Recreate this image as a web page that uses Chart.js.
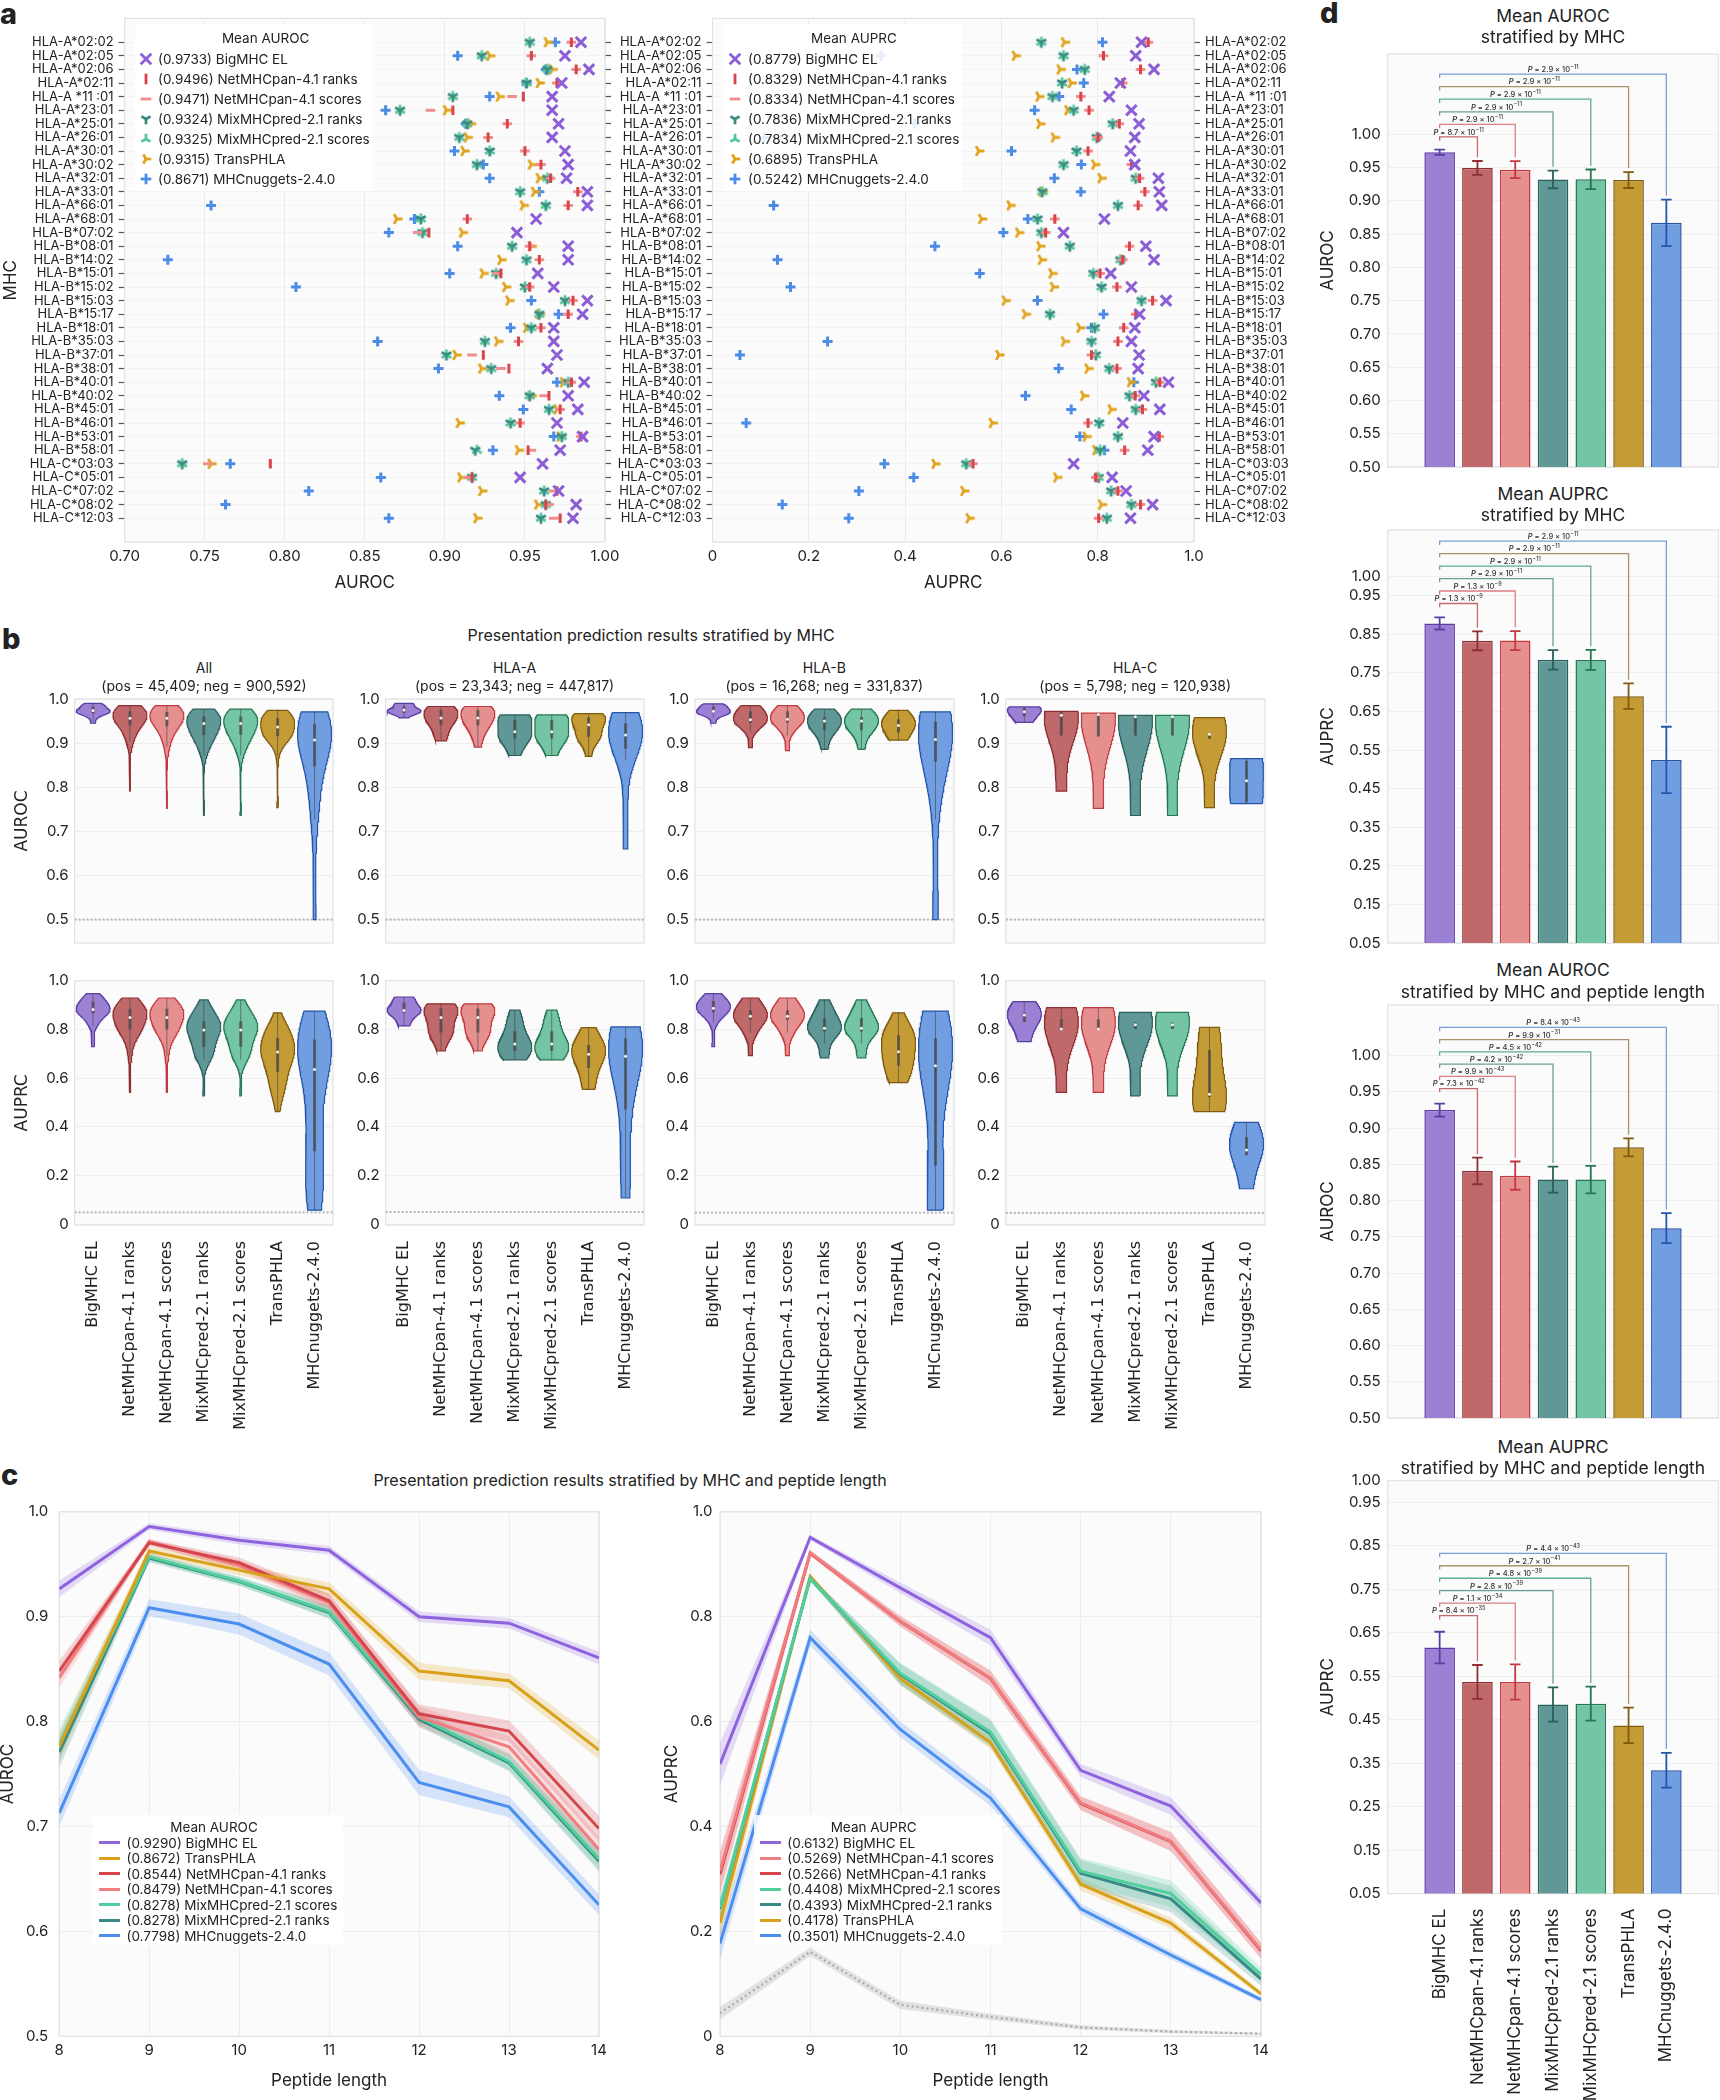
<!DOCTYPE html>
<html>
<head>
<meta charset="utf-8">
<title>Presentation prediction benchmark</title>
<script src="https://cdn.jsdelivr.net/npm/chart.js@4.4.1/dist/chart.umd.min.js"></script>
<style>
html,body{margin:0;padding:0;background:#fff;}
#root{position:relative;width:1720px;height:2100px;overflow:hidden;font-family:Inter,"Noto Sans",sans-serif;color:#222;}
#root canvas{position:absolute;}
.tx{position:absolute;white-space:nowrap;line-height:1.2;}
.bgbox{position:absolute;background:rgba(255,255,255,0.85);}
.mk{position:absolute;width:0;height:0;}
.ln{position:absolute;height:3px;width:21px;}
</style>
</head>
<body>
<div id="root"></div>
<script>
// ================= DATA =================
const MODELS = ['BigMHC EL','NetMHCpan-4.1 ranks','NetMHCpan-4.1 scores','MixMHCpred-2.1 ranks','MixMHCpred-2.1 scores','TransPHLA','MHCnuggets-2.4.0'];
const KEYS = ['big','netR','netS','mixR','mixS','trans','nug'];
const MHC = ['HLA-A*02:02','HLA-A*02:05','HLA-A*02:06','HLA-A*02:11','HLA-A *11 :01','HLA-A*23:01','HLA-A*25:01','HLA-A*26:01','HLA-A*30:01','HLA-A*30:02','HLA-A*32:01','HLA-A*33:01','HLA-A*66:01','HLA-A*68:01',
 'HLA-B*07:02','HLA-B*08:01','HLA-B*14:02','HLA-B*15:01','HLA-B*15:02','HLA-B*15:03','HLA-B*15:17','HLA-B*18:01','HLA-B*35:03','HLA-B*37:01','HLA-B*38:01','HLA-B*40:01','HLA-B*40:02','HLA-B*45:01','HLA-B*46:01','HLA-B*53:01','HLA-B*58:01',
 'HLA-C*03:03','HLA-C*05:01','HLA-C*07:02','HLA-C*08:02','HLA-C*12:03'];

// panel a: per-MHC AUROC
const aurocBig  = [0.985,0.975,0.990,0.973,0.967,0.967,0.971,0.967,0.975,0.977,0.976,0.989,0.989,0.957, 0.945,0.977,0.977,0.958,0.968,0.989,0.986,0.968,0.968,0.970,0.964,0.987,0.977,0.983,0.970,0.986,0.972, 0.961,0.947,0.971,0.982,0.980];
const aurocNetR = [0.979,0.954,0.982,0.970,0.949,0.905,0.939,0.927,0.950,0.960,0.966,0.983,0.977,0.914, 0.890,0.953,0.959,0.935,0.953,0.980,0.977,0.960,0.946,0.924,0.940,0.979,0.965,0.972,0.947,0.985,0.952, 0.791,0.917,0.970,0.963,0.972];
const aurocNetS = [0.979,0.954,0.982,0.970,0.942,0.891,0.939,0.927,0.950,0.960,0.966,0.983,0.977,0.914, 0.883,0.953,0.959,0.933,0.953,0.980,0.977,0.960,0.946,0.917,0.935,0.979,0.962,0.972,0.947,0.985,0.954, 0.752,0.915,0.968,0.965,0.968];
const aurocMixR = [0.953,0.923,0.964,0.951,0.905,0.872,0.914,0.909,0.928,0.920,0.964,0.947,0.963,0.885, 0.886,0.942,0.951,0.932,0.950,0.975,0.959,0.954,0.925,0.901,0.929,0.977,0.953,0.965,0.941,0.973,0.919, 0.736,0.917,0.962,0.963,0.960];
const aurocMixS = [0.953,0.923,0.964,0.951,0.905,0.872,0.914,0.909,0.928,0.920,0.964,0.947,0.963,0.885, 0.886,0.942,0.951,0.932,0.950,0.975,0.959,0.954,0.925,0.901,0.929,0.977,0.953,0.965,0.941,0.973,0.920, 0.736,0.917,0.962,0.963,0.960];
const aurocTrans= [0.964,0.928,0.967,0.959,0.934,0.901,0.916,0.914,0.912,0.954,0.959,0.956,0.949,0.870, 0.911,0.954,0.935,0.924,0.938,0.940,0.959,0.951,0.933,0.907,0.923,0.974,0.954,0.970,0.909,0.972,0.946, 0.754,0.910,0.923,0.958,0.920];
const aurocNug  = [0.969,0.908,0.963,0.951,0.928,0.863,0.913,0.660,0.906,0.924,0.928,0.959,0.754,0.881, 0.865,0.908,0.727,0.903,0.807,0.954,0.971,0.941,0.858,0.500,0.896,0.970,0.934,0.949,0.530,0.968,0.930, 0.766,0.860,0.815,0.763,0.865];
// panel a: per-MHC AUPRC
const auprcBig  = [0.891,0.879,0.917,0.847,0.824,0.870,0.886,0.877,0.868,0.877,0.926,0.928,0.933,0.814, 0.729,0.900,0.917,0.827,0.870,0.942,0.887,0.877,0.870,0.886,0.884,0.947,0.896,0.929,0.852,0.917,0.904, 0.750,0.830,0.859,0.914,0.868];
const auprcNetR = [0.905,0.812,0.889,0.852,0.765,0.782,0.845,0.801,0.780,0.870,0.887,0.898,0.884,0.711, 0.692,0.866,0.852,0.805,0.840,0.914,0.879,0.854,0.842,0.787,0.840,0.929,0.878,0.893,0.780,0.928,0.856, 0.541,0.796,0.842,0.889,0.802];
const auprcNetS = [0.905,0.812,0.889,0.852,0.765,0.782,0.845,0.801,0.780,0.870,0.887,0.898,0.884,0.711, 0.692,0.866,0.852,0.805,0.840,0.914,0.879,0.854,0.842,0.787,0.840,0.929,0.878,0.893,0.780,0.928,0.856, 0.541,0.796,0.842,0.889,0.802];
const auprcMixR = [0.683,0.729,0.773,0.726,0.706,0.750,0.831,0.798,0.756,0.729,0.879,0.685,0.842,0.675, 0.683,0.742,0.847,0.791,0.808,0.891,0.701,0.794,0.787,0.796,0.824,0.921,0.866,0.879,0.803,0.842,0.805, 0.527,0.802,0.828,0.870,0.819];
const auprcMixS = [0.683,0.729,0.773,0.726,0.706,0.750,0.831,0.798,0.756,0.729,0.879,0.685,0.842,0.675, 0.683,0.742,0.847,0.791,0.808,0.891,0.701,0.794,0.787,0.796,0.824,0.921,0.866,0.879,0.803,0.842,0.805, 0.527,0.802,0.828,0.870,0.819];
const auprcTrans= [0.731,0.629,0.722,0.745,0.678,0.738,0.680,0.710,0.553,0.794,0.807,0.685,0.618,0.559, 0.636,0.680,0.683,0.705,0.708,0.608,0.650,0.763,0.731,0.595,0.780,0.868,0.771,0.828,0.581,0.776,0.796, 0.462,0.715,0.522,0.808,0.533];
const auprcNug  = [0.810,0.350,0.757,0.771,0.720,0.669,0.420,0.107,0.621,0.766,0.710,0.765,0.127,0.655, 0.604,0.462,0.135,0.555,0.162,0.675,0.812,0.787,0.239,0.057,0.719,0.875,0.650,0.745,0.070,0.763,0.814, 0.357,0.418,0.304,0.145,0.283];

const legendAuroc = ['(0.9733) BigMHC EL','(0.9496) NetMHCpan-4.1 ranks','(0.9471) NetMHCpan-4.1 scores','(0.9324) MixMHCpred-2.1 ranks','(0.9325) MixMHCpred-2.1 scores','(0.9315) TransPHLA','(0.8671) MHCnuggets-2.4.0'];
const legendAuprc = ['(0.8779) BigMHC EL','(0.8329) NetMHCpan-4.1 ranks','(0.8334) NetMHCpan-4.1 scores','(0.7836) MixMHCpred-2.1 ranks','(0.7834) MixMHCpred-2.1 scores','(0.6895) TransPHLA','(0.5242) MHCnuggets-2.4.0'];
const aurocTicksA = [0.70,0.75,0.80,0.85,0.90,0.95,1.00];
const aurocTickLabelsA = ['0.70','0.75','0.80','0.85','0.90','0.95','1.00'];
const auprcTicksA = [0,0.2,0.4,0.6,0.8,1.0];
const auprcTickLabelsA = ['0','0.2','0.4','0.6','0.8','1.0'];

// panel b
const groups = ['All','HLA-A','HLA-B','HLA-C'];
const posCounts = [45409,23343,16268,5798];
const negCounts = [900592,447817,331837,120938];
const rocTicksB = [0.5,0.6,0.7,0.8,0.9,1.0];
const rocTickLabelsB = ['0.5','0.6','0.7','0.8','0.9','1.0'];
const prcTicksB = [0,0.2,0.4,0.6,0.8,1.0];
const prcTickLabelsB = ['0','0.2','0.4','0.6','0.8','1.0'];

// panel c
const peptideLengths = [8,9,10,11,12,13,14];
const lenTickLabels = ['8','9','10','11','12','13','14'];
const lenRocBig   = [0.9265,0.9860,0.9728,0.9634,0.9000,0.8938,0.8607];
const lenRocTrans = [0.7759,0.9626,0.9444,0.9265,0.8482,0.8389,0.7728];
const lenRocNetR  = [0.8480,0.9704,0.9514,0.9152,0.8074,0.7910,0.6980];
const lenRocNetS  = [0.8420,0.9716,0.9490,0.9132,0.8043,0.7760,0.6780];
const lenRocMixS  = [0.7780,0.9570,0.9340,0.9050,0.8040,0.7620,0.6690];
const lenRocMixR  = [0.7710,0.9560,0.9335,0.9040,0.8023,0.7607,0.6670];
const lenRocNug   = [0.7128,0.9086,0.8930,0.8549,0.7420,0.7187,0.6253];
const lenRocBigErr   = [0.008,0.003,0.004,0.004,0.005,0.005,0.006];
const lenRocTransErr = [0.013,0.004,0.005,0.006,0.008,0.007,0.009];
const lenRocNetRErr  = [0.010,0.003,0.005,0.007,0.009,0.010,0.012];
const lenRocNetSErr  = [0.010,0.003,0.005,0.008,0.010,0.010,0.012];
const lenRocMixSErr  = [0.015,0.004,0.004,0.006,0.007,0.008,0.010];
const lenRocMixRErr  = [0.015,0.004,0.004,0.006,0.007,0.008,0.010];
const lenRocNugErr   = [0.013,0.008,0.010,0.011,0.012,0.010,0.010];
const lenPrcBig   = [0.519,0.951,0.855,0.760,0.507,0.439,0.254];
const lenPrcNetS  = [0.315,0.922,0.792,0.683,0.445,0.372,0.165];
const lenPrcNetR  = [0.309,0.921,0.791,0.682,0.444,0.371,0.163];
const lenPrcMixS  = [0.245,0.873,0.692,0.580,0.315,0.272,0.118];
const lenPrcMixR  = [0.243,0.873,0.690,0.577,0.311,0.262,0.109];
const lenPrcTrans = [0.216,0.877,0.682,0.560,0.290,0.216,0.081];
const lenPrcNug   = [0.177,0.760,0.585,0.454,0.243,0.155,0.070];
const lenPrcBaseline = [0.044,0.161,0.060,0.037,0.017,0.009,0.005];
const lenPrcBigErr   = [0.040,0.005,0.010,0.015,0.012,0.017,0.012];
const lenPrcNetSErr  = [0.040,0.005,0.010,0.015,0.013,0.018,0.015];
const lenPrcNetRErr  = [0.040,0.005,0.010,0.015,0.013,0.018,0.015];
const lenPrcMixSErr  = [0.020,0.005,0.020,0.025,0.025,0.025,0.012];
const lenPrcMixRErr  = [0.020,0.005,0.020,0.025,0.025,0.025,0.012];
const lenPrcTransErr = [0.030,0.005,0.012,0.012,0.012,0.010,0.005];
const lenPrcNugErr   = [0.030,0.015,0.015,0.015,0.010,0.008,0.005];
const lenPrcBaselineErr = [0.012,0.008,0.008,0.006,0.004,0.003,0.002];
const lenLegendRoc = ['(0.9290) BigMHC EL','(0.8672) TransPHLA','(0.8544) NetMHCpan-4.1 ranks','(0.8479) NetMHCpan-4.1 scores','(0.8278) MixMHCpred-2.1 scores','(0.8278) MixMHCpred-2.1 ranks','(0.7798) MHCnuggets-2.4.0'];
const lenLegendPrc = ['(0.6132) BigMHC EL','(0.5269) NetMHCpan-4.1 scores','(0.5266) NetMHCpan-4.1 ranks','(0.4408) MixMHCpred-2.1 scores','(0.4393) MixMHCpred-2.1 ranks','(0.4178) TransPHLA','(0.3501) MHCnuggets-2.4.0'];
const rocTicksC = [0.5,0.6,0.7,0.8,0.9,1.0];
const rocTickLabelsC = ['0.5','0.6','0.7','0.8','0.9','1.0'];
const prcTicksC = [0,0.2,0.4,0.6,0.8,1.0];
const prcTickLabelsC = ['0','0.2','0.4','0.6','0.8','1.0'];

// panel d
const dRocMhc    = [0.9733,0.9496,0.9471,0.9324,0.9325,0.9315,0.8671];
const dRocMhcErr = [0.004,0.0105,0.0128,0.0133,0.0148,0.012,0.035];
const dRocMhcP   = [['8.7','−11'],['2.9','−11'],['2.9','−11'],['2.9','−11'],['2.9','−11'],['2.9','−11']];
const dPrcMhc    = [0.8779,0.8329,0.8334,0.7836,0.7834,0.6895,0.5242];
const dPrcMhcErr = [0.0157,0.0244,0.0248,0.0253,0.026,0.033,0.086];
const dPrcMhcP   = [['1.3','−9'],['1.3','−9'],['2.9','−11'],['2.9','−11'],['2.9','−11'],['2.9','−11']];
const dRocLen    = [0.925,0.841,0.8345,0.829,0.829,0.8736,0.762];
const dRocLenErr = [0.009,0.0184,0.0195,0.018,0.0189,0.0124,0.0207];
const dRocLenP   = [['7.3','−42'],['9.9','−43'],['4.2','−42'],['4.5','−42'],['9.9','−31'],['8.4','−43']];
const dPrcLen    = [0.616,0.537,0.537,0.485,0.487,0.437,0.334];
const dPrcLenErr = [0.0365,0.039,0.0405,0.0395,0.039,0.041,0.04];
const dPrcLenP   = [['8.4','−35'],['1.1','−34'],['2.8','−39'],['4.8','−39'],['2.7','−41'],['4.4','−43']];
const dTicksRoc = [0.50,0.55,0.60,0.65,0.70,0.75,0.80,0.85,0.90,0.95,1.00];
const dTickLabelsRoc = ['0.50','0.55','0.60','0.65','0.70','0.75','0.80','0.85','0.90','0.95','1.00'];
const dTicksPrc = [0.05,0.15,0.25,0.35,0.45,0.55,0.65,0.75,0.85,0.95,1.00];
const dTickLabelsPrc = ['0.05','0.15','0.25','0.35','0.45','0.55','0.65','0.75','0.85','0.95','1.00'];

// ================= STYLE =================
const SC = {big:'#8b5ed6', netR:'#d9434b', netS:'#f28b8b', mixR:'#3a8c83', mixS:'#58c89b', trans:'#e1a31c', nug:'#4c8ce6'};
const FILL = {big:'#9b80d3', netR:'#c0696a', netS:'#e68f8f', mixR:'#5f9896', mixS:'#74c5a6', trans:'#c49b35', nug:'#719de1'};
const EDGE = {big:'#5a3ea6', netR:'#8e2e33', netS:'#c23a40', mixR:'#2a5f5b', mixS:'#24774f', trans:'#7e5b0e', nug:'#2455a8'};
const LINE = {big:'#8f63e0', netR:'#d4464c', netS:'#f07d7f', mixR:'#388a84', mixS:'#4ecf9b', trans:'#d9a11a', nug:'#4b8ef0'};
const BRK  = {netR:'#c46a6b', netS:'#dc7f80', mixR:'#6e9d99', mixS:'#5fae8c', trans:'#a8936a', nug:'#7a9ed8'};
const MARK = {big:'x', netR:'v', netS:'h', mixR:'tridown', mixS:'triup', trans:'triright', nug:'plus'};

const AUROC = {big:aurocBig, netR:aurocNetR, netS:aurocNetS, mixR:aurocMixR, mixS:aurocMixS, trans:aurocTrans, nug:aurocNug};
const AUPRC = {big:auprcBig, netR:auprcNetR, netS:auprcNetS, mixR:auprcMixR, mixS:auprcMixS, trans:auprcTrans, nug:auprcNug};

Chart.defaults.font.family = 'Inter, "Noto Sans", sans-serif';
Chart.defaults.color = '#222';
Chart.defaults.animation = false;
Chart.defaults.responsive = false;
Chart.defaults.maintainAspectRatio = false;
Chart.defaults.devicePixelRatio = 1;
Chart.defaults.events = [];
Chart.defaults.plugins.legend.display = false;
Chart.defaults.plugins.tooltip.enabled = false;

const root = document.getElementById('root');

Chart.register({
  id: 'plotFrame',
  beforeDraw(chart) {
    const {ctx, chartArea: a} = chart;
    ctx.save(); ctx.fillStyle = '#fbfbfb'; ctx.fillRect(a.left, a.top, a.right - a.left, a.bottom - a.top); ctx.restore();
  },
  beforeDatasetsDraw(chart) {
    const {ctx, chartArea: a} = chart;
    ctx.save(); ctx.strokeStyle = '#e2e2e2'; ctx.lineWidth = 1.2;
    ctx.strokeRect(a.left, a.top, a.right - a.left, a.bottom - a.top); ctx.restore();
  }
});
Chart.register({
  id: 'pvals',
  afterDatasetsDraw(chart) {
    const items = chart.canvas.pvItems; if (!items) return;
    const ctx = chart.ctx, xs = chart.scales.x, ys = chart.scales.y;
    ctx.save(); ctx.fillStyle = '#333'; ctx.textBaseline = 'alphabetic'; ctx.textAlign = 'left';
    const f1 = 'italic 600 7.5px Inter', f2 = '500 7.5px Inter', f3 = '500 5.5px Inter';
    for (const it of items) {
      const px = xs.getPixelForValue(it.x), py = ys.getPixelForValue(it.y) - 2.2;
      const a = 'P', b = ' = ' + it.m + ' × 10', c = it.e;
      ctx.font = f1; const wa = ctx.measureText(a).width;
      ctx.font = f2; const wb = ctx.measureText(b).width;
      ctx.font = f3; const wc = ctx.measureText(c).width;
      let x0 = px - (wa + wb + wc) / 2;
      ctx.font = f1; ctx.fillText(a, x0, py); x0 += wa;
      ctx.font = f2; ctx.fillText(b, x0, py); x0 += wb;
      ctx.font = f3; ctx.fillText(c, x0 + 0.3, py - 3.2);
    }
    ctx.restore();
  }
});

const fix = s => ax => {
  if (ax.isHorizontal()) ax.height = s; else ax.width = s;
  ax.paddingLeft = 0; ax.paddingRight = 0; ax.paddingTop = 0; ax.paddingBottom = 0;
};
const setTicks = vals => ax => { ax.ticks = vals.map(v => ({value: v})); };
const hexA = (h, a) => { const n = parseInt(h.slice(1), 16); return `rgba(${(n >> 16) & 255},${(n >> 8) & 255},${n & 255},${a})`; };

function makeChart(area, sz, config) {
  const padL = sz.padL || 0, padR = sz.padR || 0, padT = sz.padT || 0, padB = sz.padB || 0;
  const mL = (sz.left || 0) + padL, mR = (sz.right || 0) + padR, mB = (sz.bottom || 0) + padB;
  const x = Math.round(area.L - mL), y = Math.round(area.T - padT);
  const w = Math.round(area.R + mR) - x, h = Math.round(area.B + mB) - y;
  const cv = document.createElement('canvas');
  cv.width = w; cv.height = h;
  cv.style.left = x + 'px'; cv.style.top = y + 'px'; cv.style.width = w + 'px'; cv.style.height = h + 'px';
  if (sz.pv) cv.pvItems = sz.pv;
  root.appendChild(cv);
  config.options = config.options || {};
  config.options.layout = {padding: {left: padL + (area.L - mL - x), right: padR, top: padT + (area.T - padT - y), bottom: padB}};
  return new Chart(cv, config);
}

function addText(s, x, y, o = {}) {
  const d = document.createElement('div');
  d.className = 'tx'; d.textContent = s;
  d.style.fontSize = (o.size || 14) + 'px';
  if (o.weight) d.style.fontWeight = o.weight;
  if (o.family) d.style.fontFamily = o.family;
  if (o.lh) d.style.lineHeight = o.lh;
  d.style.left = x + 'px'; d.style.top = y + 'px';
  const ax = o.align === 'left' ? '0' : (o.align === 'right' ? '-100%' : '-50%');
  d.style.transform = `translate(${ax},-50%)`;
  root.appendChild(d); return d;
}
function addBox(l, t, w, h) {
  const d = document.createElement('div'); d.className = 'bgbox';
  d.style.left = l + 'px'; d.style.top = t + 'px'; d.style.width = w + 'px'; d.style.height = h + 'px';
  root.appendChild(d);
}
function markerSVG(kind, color) {
  const c = 7, r = 5.3;
  const L = (x1, y1, x2, y2) => `<line x1="${x1}" y1="${y1}" x2="${x2}" y2="${y2}"/>`;
  let p = '';
  if (kind === 'x') p = L(c-r,c-r,c+r,c+r) + L(c-r,c+r,c+r,c-r);
  else if (kind === 'v') p = L(c,c-r,c,c+r);
  else if (kind === 'h') p = L(c-r,c,c+r,c);
  else if (kind === 'plus') p = L(c-r,c,c+r,c) + L(c,c-r,c,c+r);
  else if (kind === 'tridown') p = L(c,c,c,c+r) + L(c,c,c-0.866*r,c-0.5*r) + L(c,c,c+0.866*r,c-0.5*r);
  else if (kind === 'triup') p = L(c,c,c,c-r) + L(c,c,c-0.866*r,c+0.5*r) + L(c,c,c+0.866*r,c+0.5*r);
  else p = L(c,c,c+r,c) + L(c,c,c-0.5*r,c-0.866*r) + L(c,c,c-0.5*r,c+0.866*r);
  return `<svg width="14" height="14" style="position:absolute;left:-7px;top:-7px;overflow:visible" stroke="${color}" stroke-width="2.8">${p}</svg>`;
}
function triCanvas(kind, color) {
  const cv = document.createElement('canvas'); cv.width = 14; cv.height = 14;
  const g = cv.getContext('2d'); g.strokeStyle = color; g.lineWidth = 2.8; const c = 7, r = 5.6;
  const arms = kind === 'tridown' ? [[0,1],[-0.866,-0.5],[0.866,-0.5]] : kind === 'triup' ? [[0,-1],[-0.866,0.5],[0.866,0.5]] : [[1,0],[-0.5,-0.866],[-0.5,0.866]];
  g.beginPath(); for (const [dx, dy] of arms) { g.moveTo(c, c); g.lineTo(c + dx * r, c + dy * r); } g.stroke();
  return cv;
}

// ================= PANEL A =================
function mhcDatasets(metric) {
  const pts = k => metric[k].map((v, i) => ({x: v, y: i}));
  const base = {showLine: false, pointBackgroundColor: 'rgba(0,0,0,0)'};
  return [
    Object.assign({data: pts('big'), pointStyle: 'crossRot', pointRadius: 7.4, pointBorderWidth: 3, pointBorderColor: SC.big}, base),
    Object.assign({data: pts('netR'), pointStyle: 'line', pointRotation: 90, pointRadius: 4.8, pointBorderWidth: 3, pointBorderColor: SC.netR}, base),
    Object.assign({data: pts('netS'), pointStyle: 'line', pointRadius: 4.8, pointBorderWidth: 3, pointBorderColor: SC.netS}, base),
    Object.assign({data: pts('mixR'), pointStyle: triCanvas('tridown', SC.mixR), pointRadius: 6}, base),
    Object.assign({data: pts('mixS'), pointStyle: triCanvas('triup', SC.mixS), pointRadius: 6}, base),
    Object.assign({data: pts('trans'), pointStyle: triCanvas('triright', SC.trans), pointRadius: 6}, base),
    Object.assign({data: pts('nug'), pointStyle: 'cross', pointRadius: 5, pointBorderWidth: 3, pointBorderColor: SC.nug}, base)
  ];
}
const rowTicks = setTicks(MHC.map((_, i) => i));
function rowAxis(position, labels, width) {
  return {type: 'linear', position, reverse: true, min: -1.75, max: 36.75, afterBuildTicks: rowTicks,
    ticks: {display: labels, autoSkip: false, callback: v => MHC[v], font: {size: 13}, padding: 5},
    grid: {color: '#f3f3f3', drawOnChartArea: position === 'left', tickColor: '#555', tickLength: 6, tickWidth: 1.2},
    border: {display: false}, afterFit: fix(width)};
}
// left (AUROC)
makeChart({L: 124.6, T: 16.7, R: 605, B: 542.3}, {left: 124.6, right: 8, padR: 14, bottom: 55, padT: 9}, {
  type: 'scatter', data: {datasets: mhcDatasets(AUROC)},
  options: {scales: {
    x: {type: 'linear', min: 0.70, max: 1.00, afterBuildTicks: setTicks(aurocTicksA),
        ticks: {callback: (v, i) => aurocTickLabelsA[i], font: {size: 15}, padding: 5.5},
        grid: {color: '#ebebeb', drawTicks: false}, border: {display: false},
        title: {display: true, text: 'AUROC', font: {size: 17}, padding: {top: 0, bottom: 4}}, afterFit: fix(55)},
    y: Object.assign(rowAxis('left', true, 124.6), {title: {display: true, text: 'MHC', font: {size: 17}, padding: {top: 0.5, bottom: 0}}}),
    y2: rowAxis('right', false, 8)
  }}
});
// right (AUPRC)
makeChart({L: 712.5, T: 16.7, R: 1193.8, B: 542.3}, {left: 99, right: 100, bottom: 55, padT: 9}, {
  type: 'scatter', data: {datasets: mhcDatasets(AUPRC)},
  options: {scales: {
    x: {type: 'linear', min: 0, max: 1, afterBuildTicks: setTicks(auprcTicksA),
        ticks: {callback: (v, i) => auprcTickLabelsA[i], font: {size: 15}, padding: 5.5},
        grid: {color: '#ebebeb', drawTicks: false}, border: {display: false},
        title: {display: true, text: 'AUPRC', font: {size: 17}, padding: {top: 0, bottom: 4}}, afterFit: fix(55)},
    y: rowAxis('left', true, 99),
    y2: rowAxis('right', true, 100)
  }}
});
function mhcLegend(title, titleX, mx, tx, texts, bgL, bgW) {
  addBox(bgL, 24, bgW, 167);
  addText(title, titleX, 37.7, {size: 13.5});
  texts.forEach((t, k) => {
    const y = 59.3 + 20 * k;
    const m = document.createElement('div'); m.className = 'mk'; m.style.left = mx + 'px'; m.style.top = y + 'px';
    m.innerHTML = markerSVG(MARK[KEYS[k]], SC[KEYS[k]]); root.appendChild(m);
    addText(t, tx, y, {size: 13.5, align: 'left'});
  });
}

// ================= PANEL B =================
const HALF = 0.46;
function violinDatasets(vals) {
  const bodies = [], whisk = [], box = [], med = [];
  vals.forEach((arr, i) => {
    const s = arr.slice().sort((a, b) => a - b), n = s.length;
    const mean = s.reduce((a, b) => a + b, 0) / n;
    const sd = Math.sqrt(s.reduce((a, b) => a + (b - mean) ** 2, 0) / (n - 1));
    const bw = sd * Math.pow(n, -0.2);
    const lo = s[0], hi = s[n - 1], G = 120;
    const ys = [], dens = [];
    for (let g = 0; g < G; g++) {
      const y = lo + (hi - lo) * g / (G - 1); let d = 0;
      for (const v of s) d += Math.exp(-0.5 * ((y - v) / bw) ** 2);
      ys.push(y); dens.push(d);
    }
    const dmax = Math.max(...dens);
    const pts = [];
    for (let g = 0; g < G; g++) pts.push({x: i + HALF * dens[g] / dmax, y: ys[g]});
    for (let g = G - 1; g >= 0; g--) pts.push({x: i - HALF * dens[g] / dmax, y: ys[g]});
    pts.push({x: pts[0].x, y: pts[0].y});
    const k = KEYS[i];
    bodies.push({data: pts, showLine: true, fill: 'shape', backgroundColor: FILL[k], borderColor: EDGE[k], borderWidth: 1.2, pointRadius: 0});
    const q = p => { const pos = (n - 1) * p, f = Math.floor(pos), c = Math.min(f + 1, n - 1); return s[f] + (s[c] - s[f]) * (pos - f); };
    const q1 = q(0.25), q2 = q(0.5), q3 = q(0.75), iqr = q3 - q1;
    const wl = s.find(v => v >= q1 - 1.5 * iqr), wh = s.slice().reverse().find(v => v <= q3 + 1.5 * iqr);
    whisk.push({x: i, y: wl}, {x: i, y: wh}, {x: i, y: null});
    box.push({x: i, y: q1}, {x: i, y: q3}, {x: i, y: null});
    med.push({x: i, y: q2});
  });
  return [
    {data: med, showLine: false, pointRadius: 1.5, pointBackgroundColor: '#f4f4f4', pointBorderWidth: 0},
    {data: box, showLine: true, borderColor: 'rgba(70,70,70,0.7)', borderWidth: 3, pointRadius: 0},
    {data: whisk, showLine: true, borderColor: 'rgba(70,70,70,0.6)', borderWidth: 1, pointRadius: 0},
    ...bodies
  ];
}
const colsL = [74.6, 385.6, 694.9, 1005.8];
for (let row = 0; row < 2; row++) {
  for (let col = 0; col < 4; col++) {
    const metric = row === 0 ? AUROC : AUPRC;
    const idx = MHC.map((m, i) => i).filter(i => groups[col] === 'All' || MHC[i].startsWith(groups[col]));
    const vals = KEYS.map(k => idx.map(i => metric[k][i]));
    const ds = violinDatasets(vals);
    const base = row === 0 ? 0.5 : posCounts[col] / (posCounts[col] + negCounts[col]);
    ds.push({data: [{x: -0.5, y: base}, {x: 6.5, y: base}], showLine: true, borderColor: '#b5b5b5', borderDash: [2, 2], borderWidth: 2, pointRadius: 0});
    const area = {L: colsL[col], R: colsL[col] + 258.7, T: row ? 980.7 : 699, B: row ? 1225 : 943.4};
    const left = col === 0 ? 66.6 : 40;
    const xAxis = {type: 'linear', min: -0.5, max: 6.5, display: row === 1, afterBuildTicks: setTicks([0,1,2,3,4,5,6]),
      ticks: {autoSkip: false, callback: (v, i) => MODELS[i], maxRotation: 90, minRotation: 90, font: {family: '"DejaVu Sans", sans-serif', size: 16}, padding: 8},
      grid: {display: false}, border: {display: false}};
    if (row === 1) xAxis.afterFit = fix(215);
    const ticksV = row ? prcTicksB : rocTicksB, labelsV = row ? prcTickLabelsB : rocTickLabelsB;
    makeChart(area, {left, padT: 12, bottom: row ? 215 : 0, padB: row ? 0 : 6, padR: 4}, {
      type: 'scatter', data: {datasets: ds},
      options: {scales: {
        x: xAxis,
        y: {type: 'linear', min: row ? -0.004 : 0.447, max: 1.0, afterBuildTicks: setTicks(ticksV),
            ticks: {callback: (v, i) => labelsV[i], font: {size: 15}, padding: 6},
            grid: {color: '#eeeeee', drawTicks: false}, border: {display: false},
            title: {display: col === 0, text: row ? 'AUPRC' : 'AUROC', font: {family: '"DejaVu Sans", sans-serif', size: 17}, padding: {top: 4.8, bottom: 0}},
            afterFit: fix(left)}
      }}
    });
  }
}

// ================= PANEL C =================
function lenChart(area, sz, series, yTicks, yLabels, yMin, yMax, yTitle, yPad, tPad) {
  const ds = [];
  series.forEach(s => ds.push({data: peptideLengths.map((x, i) => ({x, y: s.v[i]})), borderColor: s.c, borderWidth: s.lw || 3, borderDash: s.dash || [], pointRadius: 0, fill: false}));
  series.forEach(s => {
    ds.push({data: peptideLengths.map((x, i) => ({x, y: s.v[i] - s.e[i]})), borderWidth: 0, borderColor: 'rgba(0,0,0,0)', pointRadius: 0, fill: false});
    ds.push({data: peptideLengths.map((x, i) => ({x, y: s.v[i] + s.e[i]})), borderWidth: 0, borderColor: 'rgba(0,0,0,0)', pointRadius: 0, fill: '-1', backgroundColor: hexA(s.c, s.a || 0.22)});
  });
  makeChart(area, sz, {
    type: 'line', data: {datasets: ds},
    options: {scales: {
      x: {type: 'linear', min: 8, max: 14, afterBuildTicks: setTicks(peptideLengths),
          ticks: {callback: (v, i) => lenTickLabels[i], font: {size: 15}, padding: 5.5},
          grid: {color: '#eeeeee', drawTicks: false}, border: {display: false},
          title: {display: true, text: 'Peptide length', font: {size: 17}, padding: {top: 0, bottom: 8.8}}, afterFit: fix(sz.bottom)},
      y: {type: 'linear', min: yMin, max: yMax, afterBuildTicks: setTicks(yTicks),
          ticks: {callback: (v, i) => yLabels[i], font: {size: 15}, padding: yPad},
          grid: {color: '#eeeeee', drawTicks: false}, border: {display: false},
          title: {display: true, text: yTitle, font: {size: 17}, padding: {top: tPad, bottom: 0}}, afterFit: fix(sz.left)}
    }}
  });
}
lenChart({L: 59.2, T: 1511.8, R: 599.2, B: 2036.3}, {left: 61.2, bottom: 63.7, padT: 10, padR: 16}, [
  {v: lenRocBig, e: lenRocBigErr, c: LINE.big},
  {v: lenRocTrans, e: lenRocTransErr, c: LINE.trans},
  {v: lenRocNetR, e: lenRocNetRErr, c: LINE.netR},
  {v: lenRocNetS, e: lenRocNetSErr, c: LINE.netS},
  {v: lenRocMixS, e: lenRocMixSErr, c: LINE.mixS},
  {v: lenRocMixR, e: lenRocMixRErr, c: LINE.mixR},
  {v: lenRocNug, e: lenRocNugErr, c: LINE.nug}
], rocTicksC, rocTickLabelsC, 0.5, 1.0, 'AUROC', 11, 0);
lenChart({L: 720, T: 1511.8, R: 1260.8, B: 2036.3}, {left: 60, bottom: 63.7, padT: 10, padR: 14}, [
  {v: lenPrcBig, e: lenPrcBigErr, c: LINE.big},
  {v: lenPrcNetS, e: lenPrcNetSErr, c: LINE.netS},
  {v: lenPrcNetR, e: lenPrcNetRErr, c: LINE.netR},
  {v: lenPrcMixS, e: lenPrcMixSErr, c: LINE.mixS},
  {v: lenPrcMixR, e: lenPrcMixRErr, c: LINE.mixR},
  {v: lenPrcTrans, e: lenPrcTransErr, c: LINE.trans},
  {v: lenPrcNug, e: lenPrcNugErr, c: LINE.nug},
  {v: lenPrcBaseline, e: lenPrcBaselineErr, c: '#a9a9a9', dash: [2, 3], lw: 2.2, a: 0.3}
], prcTicksC, prcTickLabelsC, 0, 1.0, 'AUPRC', 7.5, 1.4);
function lenLegend(title, titleX, lx, tx, texts, colors, bgL, bgW) {
  addBox(bgL, 1815, bgW, 130);
  addText(title, titleX, 1826.5, {size: 13.5});
  texts.forEach((t, k) => {
    const y = 1842.9 + 15.5 * k;
    const d = document.createElement('div'); d.className = 'ln';
    d.style.left = lx + 'px'; d.style.top = (y - 1.5) + 'px'; d.style.background = colors[k]; root.appendChild(d);
    addText(t, tx, y, {size: 13.5, align: 'left'});
  });
}

// ================= PANEL D =================
const dCharts = [
  {means: dRocMhc, errs: dRocMhcErr, p: dRocMhcP, ticks: dTicksRoc, labels: dTickLabelsRoc, min: 0.5, max: 1.121, T: 54, B: 466.7, title: 'AUROC', off: 0.019, step: 0.0189},
  {means: dPrcMhc, errs: dPrcMhcErr, p: dPrcMhcP, ticks: dTicksPrc, labels: dTickLabelsPrc, min: 0.05, max: 1.12, T: 530, B: 942.7, title: 'AUPRC', off: 0.036, step: 0.0323},
  {means: dRocLen, errs: dRocLenErr, p: dRocLenP, ticks: dTicksRoc, labels: dTickLabelsRoc, min: 0.5, max: 1.07, T: 1005, B: 1418.3, title: 'AUROC', off: 0.0205, step: 0.0169},
  {means: dPrcLen, errs: dPrcLenErr, p: dPrcLenP, ticks: dTicksPrc, labels: dTickLabelsPrc, min: 0.05, max: 1.0, T: 1480.7, B: 1893.6, title: 'AUPRC', off: 0.037, step: 0.0287, xLabels: true}
];
dCharts.forEach(dc => {
  const ds = [];
  const items = [];
  const bigHi = dc.means[0] + dc.errs[0];
  for (let k = 0; k < 6; k++) {
    const j = k + 1, lvl = bigHi + dc.off + k * dc.step, tick = 0.3 * dc.step;
    const drop = dc.means[j] + dc.errs[j] + 0.3 * dc.step;
    ds.push({type: 'line', data: [{x: 0, y: lvl - tick}, {x: 0, y: lvl}, {x: j, y: lvl}, {x: j, y: drop}], borderColor: BRK[KEYS[j]], borderWidth: 1.3, pointRadius: 0, fill: false});
    items.push({x: j / 2, y: lvl, m: dc.p[k][0], e: dc.p[k][1]});
  }
  dc.means.forEach((m, i) => {
    const lo = m - dc.errs[i], hi = m + dc.errs[i], c = 0.14;
    ds.push({type: 'line', data: [{x: i, y: lo}, {x: i, y: hi}, {x: i, y: null}, {x: i - c, y: lo}, {x: i + c, y: lo}, {x: i, y: null}, {x: i - c, y: hi}, {x: i + c, y: hi}],
      borderColor: EDGE[KEYS[i]], borderWidth: 1.8, pointRadius: 0, fill: false});
  });
  ds.push({type: 'bar', data: dc.means.map((v, i) => ({x: i, y: v})), backgroundColor: KEYS.map(k => FILL[k]), borderColor: KEYS.map(k => EDGE[k]), borderWidth: 1.5, barPercentage: 0.9, categoryPercentage: 0.9});
  const xAxis = {type: 'linear', min: -0.75, max: 6.75, display: !!dc.xLabels, afterBuildTicks: setTicks([0,1,2,3,4,5,6]),
    ticks: {autoSkip: false, callback: (v, i) => MODELS[i], maxRotation: 90, minRotation: 90, font: {size: 17}, padding: 7},
    grid: {display: false}, border: {display: false}};
  if (dc.xLabels) xAxis.afterFit = fix(206.4);
  makeChart({L: 1387.7, R: 1718.3, T: dc.T, B: dc.B}, {left: 75.7, padR: 1.7, padT: 12, bottom: dc.xLabels ? 206.4 : 0, padB: dc.xLabels ? 0 : 8, pv: items}, {
    type: 'bar', data: {datasets: ds},
    options: {scales: {
      x: xAxis,
      y: {type: 'linear', min: dc.min, max: dc.max, afterBuildTicks: setTicks(dc.ticks),
          ticks: {callback: (v, i) => dc.labels[i], font: {size: 15}, padding: 7},
          grid: {color: '#efefef', drawTicks: false}, border: {display: false},
          title: {display: true, text: dc.title, font: {size: 17}, padding: {top: 6.1, bottom: 0}}, afterFit: fix(75.7)}
    }}
  });
});

// ================= TEXT OVERLAYS =================
mhcLegend('Mean AUROC', 265.7, 146, 158, legendAuroc, 135, 237);
mhcLegend('Mean AUPRC', 854, 734.8, 748, legendAuprc, 724, 238);

addText('Presentation prediction results stratified by MHC', 651, 636, {size: 16});
const colCenters = [204, 514.6, 824.3, 1135.2];
groups.forEach((g, c) => {
  addText(g, colCenters[c], 668, {size: 14});
  addText(`(pos = ${posCounts[c].toLocaleString('en-US')}; neg = ${negCounts[c].toLocaleString('en-US')})`, colCenters[c], 686, {size: 14});
});

addText('Presentation prediction results stratified by MHC and peptide length', 630, 1481, {size: 16});
lenLegend('Mean AUROC', 214, 99, 126.5, lenLegendRoc, [LINE.big, LINE.trans, LINE.netR, LINE.netS, LINE.mixS, LINE.mixR, LINE.nug], 93, 250);
lenLegend('Mean AUPRC', 873.6, 760, 787.3, lenLegendPrc, [LINE.big, LINE.netS, LINE.netR, LINE.mixS, LINE.mixR, LINE.trans, LINE.nug], 753.6, 248);

const dTitles = [['Mean AUROC', 'stratified by MHC', 15, 36], ['Mean AUPRC', 'stratified by MHC', 492.7, 514.3],
  ['Mean AUROC', 'stratified by MHC and peptide length', 969, 990.7], ['Mean AUPRC', 'stratified by MHC and peptide length', 1446, 1466.8]];
dTitles.forEach(t => { addText(t[0], 1553, t[2], {size: 17.5}); addText(t[1], 1553, t[3], {size: 17.5}); });

addText('a', 0, 13, {size: 29, weight: 800, align: 'left', lh: 1});
addText('b', 2, 638, {size: 29, weight: 800, align: 'left', lh: 1});
addText('c', 1, 1473.5, {size: 29, weight: 800, align: 'left', lh: 1});
addText('d', 1320, 12.3, {size: 29, weight: 800, align: 'left', lh: 1});
</script>
</body>
</html>
